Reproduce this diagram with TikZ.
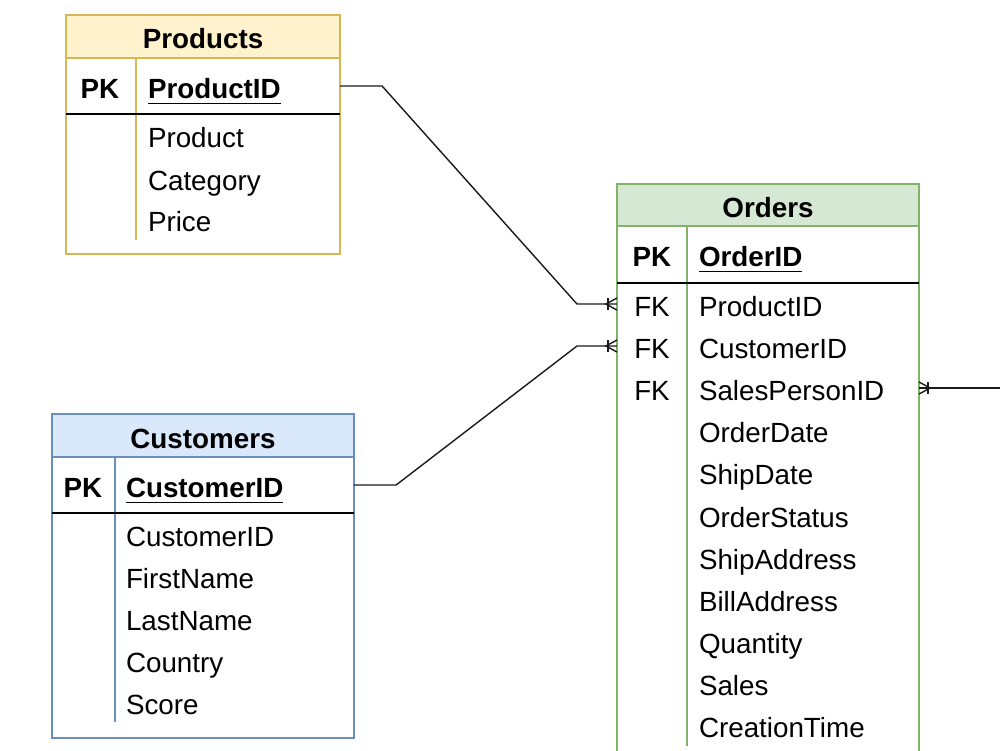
\documentclass[tikz,border=0pt]{standalone}
\usepackage{fontspec}
\setmainfont{Liberation Sans}
\definecolor{prodfill}{HTML}{FFF2CC}
\definecolor{prodline}{HTML}{D6B656}
\definecolor{ordfill}{HTML}{D5E8D4}
\definecolor{ordline}{HTML}{82B366}
\definecolor{cusfill}{HTML}{DAE8FC}
\definecolor{cusline}{HTML}{6C8EBF}
\definecolor{linkc}{HTML}{1A1A1A}
\newcommand{\erfont}{\fontsize{7.9}{9.5}\selectfont}
\begin{document}
\begin{tikzpicture}[x=0.01cm,y=-0.01cm,
  every node/.style={inner sep=0pt, outer sep=0pt, font=\erfont},
  frame/.style={line width=0.45pt},
  sepline/.style={line width=0.6pt, black},
  title/.style={anchor=base, font=\erfont\bfseries},
  keytxt/.style={anchor=base, font=\erfont\bfseries},
  fktxt/.style={anchor=base},
  pkfield/.style={anchor=base west, font=\erfont\bfseries},
  field/.style={anchor=base west},
  rowbox/.style={minimum width=#1, minimum height=0.42cm},
  link/.style={line width=0.4pt, linkc},
  pics/crowfoot/.style={code={
    \draw[link] (0,-6) -- (-11,0) -- (0,6);
    \draw[link] (-9,-6) -- (-9,6);}}
]
\useasboundingbox (0,0) rectangle (1000,750);
\clip (0,0) rectangle (1000,750);

% ---------- Products ----------
\draw[frame, draw=prodline, fill=prodfill] (66,15) rectangle (340,58);
\draw[frame, draw=prodline, fill=white] (66,58) rectangle (340,254);
\draw[frame, draw=prodline] (136,58) -- (136,240);
\draw[sepline] (66,114) -- (340,114);
\node[title] (prodtitle) at (203,48) {Products};
\node[rowbox=2.74cm, minimum height=0.56cm] (prodpk) at (203,86) {};
\node[keytxt] (prodpkk) at (100,98) {PK};
\node[pkfield] (prodpkf) at (148,98) {\underline{ProductID}};
\node[field] (prodf1) at (148,147) {Product};
\node[field] (prodf2) at (148,190) {Category};
\node[field] (prodf3) at (148,231) {Price};

% ---------- Orders ----------
\draw[frame, draw=ordline, fill=ordfill] (617,184) rectangle (919,226);
\draw[frame, draw=ordline, fill=white] (617,226) rectangle (919,790);
\draw[frame, draw=ordline] (687,226) -- (687,746);
\draw[sepline] (617,283) -- (919,283);
\node[title] (ordtitle) at (768,217) {Orders};
\node[keytxt] (ordpkk) at (652,266) {PK};
\node[pkfield] (ordpkf) at (699,266) {\underline{OrderID}};
\node[rowbox=3.02cm] (ordfk1) at (768,304) {};
\node[rowbox=3.02cm] (ordfk2) at (768,346) {};
\node[rowbox=3.02cm] (ordfk3) at (768,388) {};
\node[fktxt] (ordfkk1) at (652,316) {FK};
\node[fktxt] (ordfkk2) at (652,358) {FK};
\node[fktxt] (ordfkk3) at (652,400) {FK};
\node[field] (ordf1) at (699,316) {ProductID};
\node[field] (ordf2) at (699,358) {CustomerID};
\node[field] (ordf3) at (699,400) {SalesPersonID};
\node[field] (ordf4) at (699,442) {OrderDate};
\node[field] (ordf5) at (699,484) {ShipDate};
\node[field] (ordf6) at (699,527) {OrderStatus};
\node[field] (ordf7) at (699,569) {ShipAddress};
\node[field] (ordf8) at (699,611) {BillAddress};
\node[field] (ordf9) at (699,653) {Quantity};
\node[field] (ordf10) at (699,695) {Sales};
\node[field] (ordf11) at (699,737) {CreationTime};

% ---------- Customers ----------
\draw[frame, draw=cusline, fill=cusfill] (52,414) rectangle (354,457);
\draw[frame, draw=cusline, fill=white] (52,457) rectangle (354,738);
\draw[frame, draw=cusline] (115,457) -- (115,722);
\draw[sepline] (52,513) -- (354,513);
\node[title] (custitle) at (203,448) {Customers};
\node[rowbox=3.02cm, minimum height=0.56cm] (cuspk) at (203,485) {};
\node[keytxt] (cuspkk) at (83,497) {PK};
\node[pkfield] (cuspkf) at (126,497) {\underline{CustomerID}};
\node[field] (cusf1) at (126,546) {CustomerID};
\node[field] (cusf2) at (126,588) {FirstName};
\node[field] (cusf3) at (126,630) {LastName};
\node[field] (cusf4) at (126,672) {Country};
\node[field] (cusf5) at (126,714) {Score};

% ---------- Connectors ----------
\coordinate (spend) at (1010,388);
\draw[link] (prodpk.east) -- ++(42,0) -- (577,304) -- (ordfk1.west);
\draw[link] (cuspk.east) -- ++(42,0) -- (577,346) -- (ordfk2.west);
\draw[link] (ordfk3.east) -- (spend);
\pic at (ordfk1.west) {crowfoot};
\pic at (ordfk2.west) {crowfoot};
\pic[xscale=-1] at (ordfk3.east) {crowfoot};
\end{tikzpicture}
\end{document}
